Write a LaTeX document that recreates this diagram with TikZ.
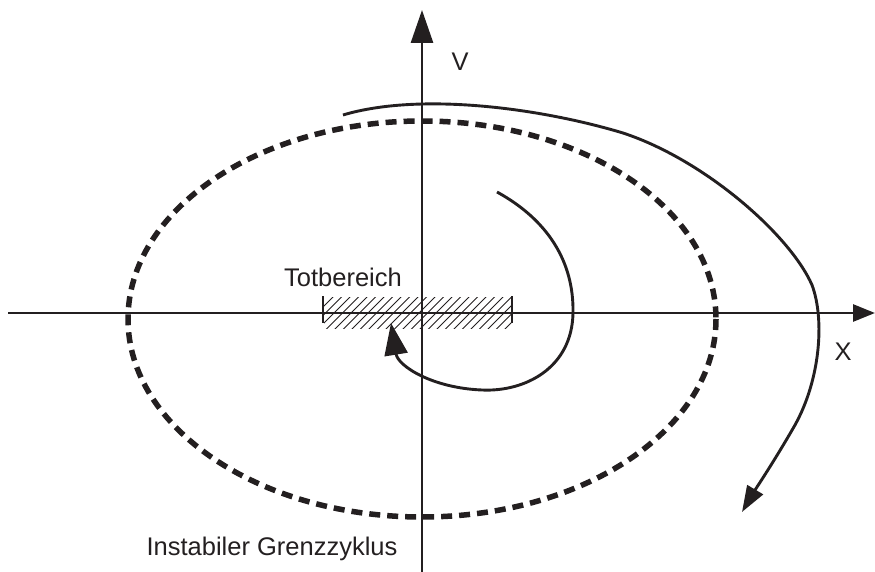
\documentclass[tikz,border=0pt]{standalone}
\usepackage{fontspec}
\setmainfont{Liberation Sans}
\usetikzlibrary{arrows.meta}
\definecolor{ink}{HTML}{231F20}
\begin{document}
\begin{tikzpicture}[x=1pt,y=-1pt,
  axis/.style={draw=ink,line width=2.8pt},
  traj/.style={draw=ink,line width=2.9pt},
  limit/.style={draw=ink,line width=5.5pt,dash pattern=on 11pt off 7pt},
  hatch/.style={draw=ink,line width=0.8pt},
  lbl/.style={text=ink,font=\fontsize{25.5}{25.5}\selectfont,inner sep=0pt}]
\useasboundingbox (0,0) rectangle (875,572);
% hatched dead zone
\begin{scope}
  \clip (324,297) rectangle (512,328);
  \foreach \i in {0,...,26} {
    \draw[hatch] ({300+\i*8.5},330) -- ++(34,-34);
  }
\end{scope}
\draw[axis] (323,296) -- (323,323);
\draw[axis] (512,296) -- (512,323);
% dashed limit cycle
\draw[limit] (422,319) ellipse [x radius=294, y radius=198];
% axes
\coordinate (xl) at (8,313);
\coordinate (xr) at (875,313);
\coordinate (vb) at (422,572);
\coordinate (vt) at (422,10);
\draw[axis,-{Triangle[length=22pt,width=17pt]}] (xl) -- (xr);
\draw[axis,-{Triangle[length=33pt,width=22pt]}] (vb) -- (vt);
% inner trajectory
\draw[traj,-{Triangle[length=32pt,width=23pt]}]
  (497,192) .. controls (548,220) and (574,262) .. (573,313)
  .. controls (572,368) and (525,392) .. (482,390)
  .. controls (432,388) and (398,366) .. (391,323);
% outer trajectory
\draw[traj,-{Triangle[length=26pt,width=18pt]}]
  (343,115) .. controls (420,92) and (540,108) .. (623,133)
  .. controls (705,160) and (790,235) .. (812,285)
  .. controls (825,320) and (820,380) .. (795,425)
  .. controls (775,460) and (755,490) .. (742,512);
% labels
\node[lbl] (v) at (460,62) {V};
\node[lbl] (x) at (843,352) {X};
\node[lbl] (tot) at (343,277) {Totbereich};
\node[lbl] (grenz) at (272,549) {Instabiler Grenzzyklus};
\end{tikzpicture}
\end{document}
